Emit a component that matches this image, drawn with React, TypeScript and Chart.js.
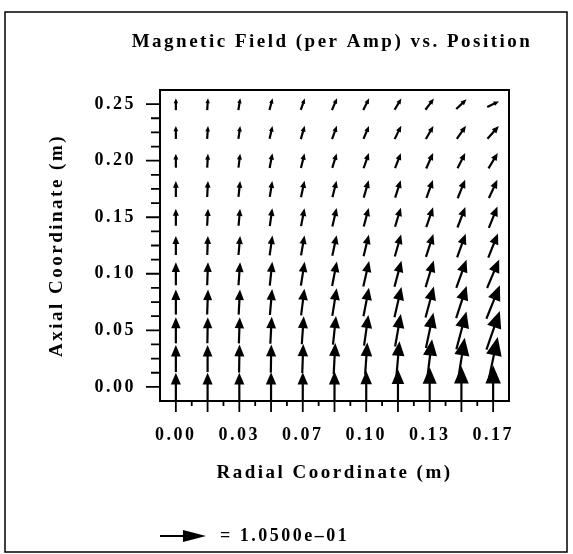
import React, { useEffect, useRef } from 'react';
import { Chart, registerables } from 'chart.js';

Chart.register(...registerables);

// ---- data ----
const radialPositions = [0, 0.016667, 0.033333, 0.05, 0.066667, 0.083333, 0.1, 0.116667, 0.133333, 0.15, 0.166667];
const axialPositions = [0, 0.025, 0.05, 0.075, 0.1, 0.125, 0.15, 0.175, 0.2, 0.225, 0.25];

const radialTickLabels = [0, 0.033333, 0.066667, 0.1, 0.133333, 0.166667];
const axialTickLabels = [0, 0.05, 0.1, 0.15, 0.2, 0.25];
const radialMinorTicks = [0.008333, 0.025, 0.041667, 0.058333, 0.075, 0.091667, 0.108333, 0.125, 0.141667, 0.158333];
const axialMinorTicks = [0.0125, 0.025, 0.0375, 0.0625, 0.075, 0.0875, 0.1125, 0.125, 0.1375, 0.1625, 0.175, 0.1875, 0.2125, 0.225, 0.2375];

// |B| per amp (T/A), rows = axial positions (bottom to top), columns = radial positions
const fieldMagnitude = [
  [0.0639, 0.0639, 0.0641, 0.0662, 0.0664, 0.0708, 0.0731, 0.0799, 0.0891, 0.0936, 0.0982],
  [0.0616, 0.0617, 0.0639, 0.0641, 0.0662, 0.0708, 0.0731, 0.0799, 0.0891, 0.0959, 0.1005],
  [0.0594, 0.0594, 0.0596, 0.0616, 0.0639, 0.0662, 0.0708, 0.0753, 0.0822, 0.0891, 0.0936],
  [0.0571, 0.0571, 0.0573, 0.0594, 0.0616, 0.0639, 0.0662, 0.0708, 0.0731, 0.0776, 0.0822],
  [0.0525, 0.0525, 0.0527, 0.0548, 0.0550, 0.0571, 0.0594, 0.0616, 0.0639, 0.0685, 0.0708],
  [0.0434, 0.0434, 0.0436, 0.0457, 0.0459, 0.0479, 0.0502, 0.0525, 0.0548, 0.0571, 0.0594],
  [0.0388, 0.0388, 0.0390, 0.0411, 0.0413, 0.0434, 0.0436, 0.0457, 0.0479, 0.0502, 0.0525],
  [0.0365, 0.0365, 0.0366, 0.0367, 0.0388, 0.0390, 0.0411, 0.0413, 0.0434, 0.0457, 0.0459],
  [0.0320, 0.0320, 0.0321, 0.0342, 0.0343, 0.0345, 0.0365, 0.0367, 0.0388, 0.0390, 0.0411],
  [0.0297, 0.0297, 0.0298, 0.0299, 0.0320, 0.0321, 0.0322, 0.0342, 0.0344, 0.0365, 0.0388],
  [0.0274, 0.0274, 0.0275, 0.0276, 0.0277, 0.0297, 0.0298, 0.0299, 0.0320, 0.0321, 0.0297],
];

// direction of B, degrees from the +axial direction toward +radial
const fieldAngleDeg = [
  [0, 0, 0, 0, 0, 0, 0, 0, 0, 0, 0],
  [0, 0, 1, 1, 2, 3, 4, 5, 7, 9, 12],
  [0, 1, 2, 3, 4, 6, 8, 10, 12, 15, 19],
  [0, 2, 3, 5, 7, 9, 11, 13, 15, 18, 22],
  [0, 2, 4, 6, 9, 11, 13, 15, 17, 20, 23],
  [0, 2, 5, 8, 10, 12, 14, 16, 18, 20, 22],
  [0, 3, 5, 8, 11, 13, 15, 17, 19, 21, 22],
  [0, 3, 6, 9, 12, 14, 16, 18, 20, 22, 25],
  [0, 3, 7, 11, 14, 17, 19, 21, 24, 27, 31],
  [0, 4, 8, 13, 16, 20, 23, 26, 30, 35, 42],
  [0, 4, 9, 15, 19, 23, 27, 31, 37, 47, 65],
];

const legendValue = 0.105;
const legendText = '= 1.0500e\u201301';
const titleText = 'Magnetic Field (per Amp) vs. Position';
const xTitle = 'Radial Coordinate (m)';
const yTitle = 'Axial Coordinate (m)';

// ---- styles ----
const FONT = '"Liberation Serif", "Times New Roman", Times, serif';
const W = 573;
const H = 554;
const LEGEND_ARROW_PX = 46;
const ARROW_SCALE = LEGEND_ARROW_PX / legendValue; // px per T/A

function drawArrow(ctx: CanvasRenderingContext2D, cx: number, cy: number, len: number, ang: number, headFrac = 0.42, halfWFrac = 0.18, centered = true) {
  const dx = Math.sin(ang);
  const dy = -Math.cos(ang);
  const tx = centered ? cx - (dx * len) / 2 : cx;
  const ty = centered ? cy - (dy * len) / 2 : cy;
  const hx = tx + dx * len;
  const hy = ty + dy * len;
  const hl = len * headFrac;
  const hw = len * halfWFrac;
  const bx = hx - dx * hl;
  const by = hy - dy * hl;
  ctx.beginPath();
  ctx.moveTo(tx, ty);
  ctx.lineTo(bx + dx * hl * 0.3, by + dy * hl * 0.3);
  ctx.stroke();
  ctx.beginPath();
  ctx.moveTo(hx, hy);
  ctx.lineTo(bx - dy * hw, by + dx * hw);
  ctx.lineTo(bx + dy * hw, by - dx * hw);
  ctx.closePath();
  ctx.fill();
}

const spacingPlugin = {
  id: 'letterSpacing',
  beforeDraw(chart: any) {
    (chart.ctx as any).letterSpacing = '2.5px';
  },
};

const quiverPlugin = {
  id: 'quiver',
  afterDatasetsDraw(chart: any) {
    const ctx: CanvasRenderingContext2D = chart.ctx;
    const meta = chart.getDatasetMeta(0);
    const raw = chart.data.datasets[0].data as any[];
    const ca = chart.chartArea;
    ctx.save();
    ctx.beginPath();
    ctx.rect(ca.left, ca.top, ca.right - ca.left, ca.bottom - ca.top);
    ctx.clip();
    ctx.strokeStyle = '#000';
    ctx.fillStyle = '#000';
    ctx.lineWidth = 2.2;
    ctx.lineCap = 'butt';
    ctx.lineJoin = 'round';
    meta.data.forEach((el: any, k: number) => {
      const p = raw[k];
      drawArrow(ctx, el.x, el.y, p.mag * ARROW_SCALE, (p.ang * Math.PI) / 180);
    });
    ctx.restore();
  },
};

const framePlugin = {
  id: 'frame',
  afterDraw(chart: any) {
    const ctx: CanvasRenderingContext2D = chart.ctx;
    const ca = chart.chartArea;
    const xs = chart.scales.x;
    const ys = chart.scales.y;
    ctx.save();
    ctx.strokeStyle = '#000';
    ctx.fillStyle = '#000';
    // plot frame
    ctx.lineWidth = 2;
    ctx.strokeRect(ca.left, ca.top, ca.right - ca.left, ca.bottom - ca.top);
    // tick marks
    ctx.lineWidth = 1.8;
    ctx.beginPath();
    radialPositions.forEach((v) => {
      const px = xs.getPixelForValue(v);
      ctx.moveTo(px, ca.bottom);
      ctx.lineTo(px, ca.bottom + 11);
    });
    radialMinorTicks.forEach((v) => {
      const px = xs.getPixelForValue(v);
      ctx.moveTo(px, ca.bottom);
      ctx.lineTo(px, ca.bottom + 5);
    });
    axialTickLabels.forEach((v) => {
      const py = ys.getPixelForValue(v);
      ctx.moveTo(ca.left - 14, py);
      ctx.lineTo(ca.left, py);
    });
    axialMinorTicks.forEach((v) => {
      const py = ys.getPixelForValue(v);
      ctx.moveTo(ca.left - 9, py);
      ctx.lineTo(ca.left, py);
    });
    ctx.stroke();
    // outer border
    ctx.lineWidth = 1.5;
    ctx.strokeRect(5, 12, 562, 540);
    // title
    (ctx as any).letterSpacing = '2.5px';
    ctx.font = `bold 19px ${FONT}`;
    ctx.textAlign = 'center';
    ctx.textBaseline = 'middle';
    ctx.fillText(titleText, 332, 42);
    // legend (reference vector)
    ctx.lineWidth = 2;
    drawArrow(ctx, 160, 536, legendValue * ARROW_SCALE, Math.PI / 2, 0.5, 0.13, false);
    ctx.font = `bold 18px ${FONT}`;
    ctx.textAlign = 'left';
    ctx.fillText(legendText, 220, 536);
    ctx.restore();
  },
};

export default function App() {
  const ref = useRef<HTMLCanvasElement | null>(null);

  useEffect(() => {
    if (!ref.current) return;
    const points: any[] = [];
    axialPositions.forEach((z, i) => {
      radialPositions.forEach((r, j) => {
        points.push({ x: r, y: z, mag: fieldMagnitude[i][j], ang: fieldAngleDeg[i][j] });
      });
    });

    const chart = new Chart(ref.current, {
      type: 'scatter',
      data: {
        datasets: [
          {
            label: 'B',
            data: points,
            pointRadius: 0,
            pointHoverRadius: 0,
            showLine: false,
          },
        ],
      },
      options: {
        animation: false,
        responsive: false,
        devicePixelRatio: 1,
        events: [],
        layout: { padding: { left: 0, top: 90, right: 64, bottom: 0 } },
        plugins: {
          legend: { display: false },
          tooltip: { enabled: false },
          title: { display: false },
        },
        scales: {
          x: {
            type: 'linear',
            min: -0.008333,
            max: 0.175,
            afterBuildTicks: (s: any) => {
              s.ticks = radialTickLabels.map((v) => ({ value: v }));
            },
            afterFit: (s: any) => {
              s.height = 153;
            },
            ticks: {
              autoSkip: false,
              maxRotation: 0,
              minRotation: 0,
              padding: 24,
              color: '#000',
              font: { family: FONT, size: 18, weight: 'bold' },
              callback: (v: any) => Number(v).toFixed(2),
            },
            grid: { display: false, drawTicks: false },
            border: { display: false },
            title: {
              display: true,
              text: xTitle,
              color: '#000',
              font: { family: FONT, size: 19, weight: 'bold' },
              padding: { top: 0, bottom: 70 },
            },
          },
          y: {
            type: 'linear',
            min: -0.0125,
            max: 0.2625,
            afterBuildTicks: (s: any) => {
              s.ticks = axialTickLabels.map((v) => ({ value: v }));
            },
            afterFit: (s: any) => {
              s.width = 160;
            },
            ticks: {
              autoSkip: false,
              padding: 24,
              color: '#000',
              font: { family: FONT, size: 18, weight: 'bold' },
              callback: (v: any) => Number(v).toFixed(2),
            },
            grid: { display: false, drawTicks: false },
            border: { display: false },
            title: {
              display: true,
              text: yTitle,
              color: '#000',
              font: { family: FONT, size: 19, weight: 'bold' },
              padding: { top: 46, bottom: 0 },
            },
          },
        },
      } as any,
      plugins: [spacingPlugin, quiverPlugin, framePlugin],
    });
    return () => chart.destroy();
  }, []);

  return (
    <div style={{ position: 'absolute', left: 0, top: 0, width: W, height: H, background: '#fff' }}>
      <canvas ref={ref} width={W} height={H} style={{ display: 'block' }} />
    </div>
  );
}
